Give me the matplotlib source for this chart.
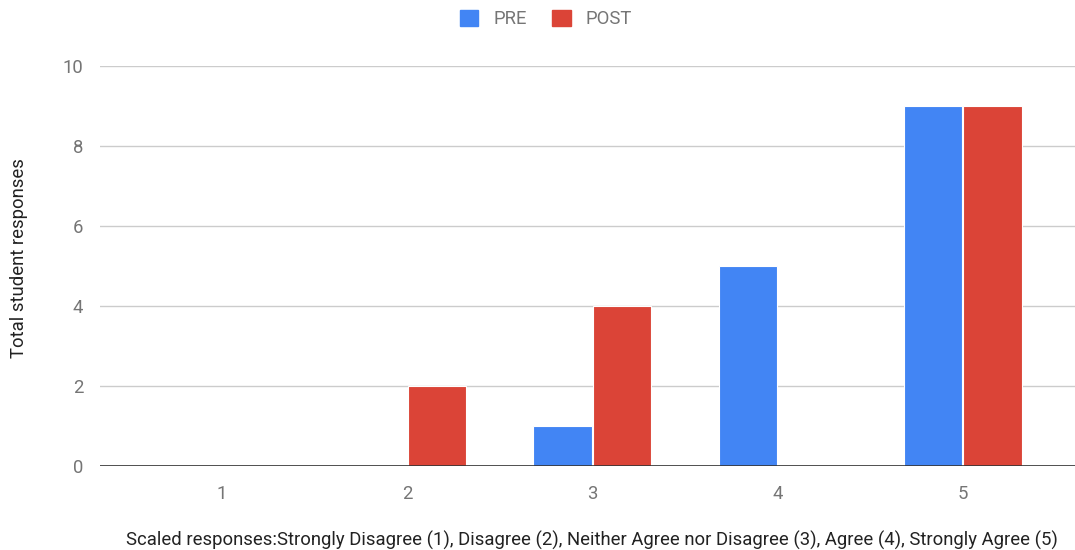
import matplotlib.pyplot as plt
import numpy as np
from matplotlib.patches import Patch

plt.rcParams['font.family'] = ['Roboto', 'DejaVu Sans']

categories = ['1', '2', '3', '4', '5']
pre = [0, 0, 1, 5, 9]
post = [0, 2, 4, 0, 9]
yticks = [0, 2, 4, 6, 8, 10]

pre_color = '#4285F4'
post_color = '#DB4437'
grey = '#757575'
fs = 13.3

fig = plt.figure(figsize=(10.75, 5.5), dpi=100)
ax = fig.add_axes([100 / 1075, 84 / 550, 975 / 1075, 400 / 550])

x = np.arange(1, len(categories) + 1)
w = 0.315
ax.bar(x - 0.162, pre, w, color=pre_color, edgecolor='white', linewidth=0.8, zorder=3)
ax.bar(x + 0.160, post, w, color=post_color, edgecolor='white', linewidth=0.8, zorder=3)

ax.set_xlim(0.341, 5.605)
ax.set_ylim(0, 10)
ax.set_yticks(yticks)
ax.set_xticks(x)
ax.set_xticklabels(categories)
ax.grid(axis='y', color='#cccccc', linewidth=1, zorder=0)
ax.axhline(0, color='#333333', linewidth=1.2, zorder=4)
for s in ax.spines.values():
    s.set_visible(False)
ax.tick_params(length=0, labelsize=fs, labelcolor=grey)
ax.tick_params(axis='y', pad=12)
ax.tick_params(axis='x', pad=14)

ax.set_ylabel('Total student responses', fontsize=fs, color='#222222')
ax.yaxis.set_label_coords(-72 / 975, 0.52)
fig.text(592 / 1075, 1 - 540 / 550,
         'Scaled responses:Strongly Disagree (1), Disagree (2), Neither Agree nor Disagree (3), Agree (4), Strongly Agree (5)',
         ha='center', va='center', fontsize=fs, color='#222222')

handles = [Patch(color=pre_color, label='PRE'), Patch(color=post_color, label='POST')]
leg = fig.legend(handles=handles, loc='center', bbox_to_anchor=(546 / 1075, 1 - 19 / 550),
                 ncol=2, frameon=False, fontsize=fs, handlelength=1.0, handleheight=1.0,
                 columnspacing=1.4, handletextpad=0.8)
for t in leg.get_texts():
    t.set_color(grey)

fig.savefig('out.png', dpi=100)
